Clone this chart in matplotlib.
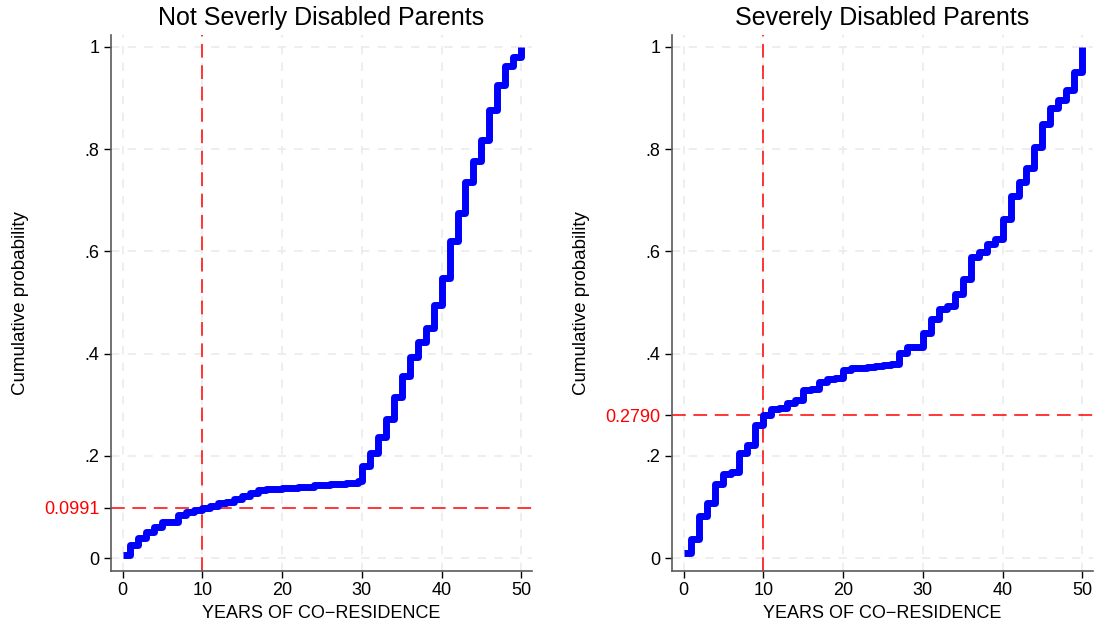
import numpy as np
import matplotlib as mpl
mpl.use('Agg')
import matplotlib.pyplot as plt

plt.rcParams['font.family'] = ['Liberation Sans', 'DejaVu Sans']

# cumulative distribution of years of co-residence
years_not = [0, 1, 2, 3, 4, 5, 7, 8, 9, 10, 11, 12, 13, 14, 15, 16, 17, 18, 20, 22,
             24, 26, 28, 29.5, 30, 31, 32, 33, 34, 35, 36, 37, 38, 39, 40, 41, 42,
             43, 44, 45, 46, 47, 48, 49, 50]
cdf_not = [0.007, 0.026, 0.039, 0.052, 0.061, 0.071, 0.085, 0.090, 0.095, 0.099,
           0.103, 0.107, 0.110, 0.116, 0.121, 0.127, 0.134, 0.136, 0.138, 0.140,
           0.143, 0.145, 0.147, 0.150, 0.180, 0.205, 0.237, 0.273, 0.316, 0.357,
           0.393, 0.422, 0.451, 0.495, 0.547, 0.621, 0.675, 0.735, 0.776, 0.818,
           0.877, 0.925, 0.963, 0.979, 1.0]

years_sev = list(range(0, 51))
cdf_sev = [0.011, 0.037, 0.083, 0.108, 0.145, 0.165, 0.168, 0.206, 0.221, 0.261,
           0.279, 0.292, 0.294, 0.303, 0.309, 0.329, 0.331, 0.344, 0.350, 0.353,
           0.367, 0.371, 0.372, 0.374, 0.376, 0.378, 0.380, 0.402, 0.412, 0.413,
           0.441, 0.467, 0.487, 0.493, 0.516, 0.546, 0.588, 0.598, 0.614, 0.625,
           0.663, 0.709, 0.735, 0.763, 0.803, 0.848, 0.880, 0.895, 0.915, 0.951, 1.0]

titles = ['Not Severly Disabled Parents', 'Severely Disabled Parents']
cut_year = 10
cut_values = [0.0991, 0.2790]
cut_labels = ['0.0991', '0.2790']

fig = plt.figure(figsize=(10.94, 6.28), dpi=100)
ax1 = fig.add_axes([0.1012, 0.0908, 0.3848, 0.8535])
ax2 = fig.add_axes([0.614, 0.0908, 0.3848, 0.8535])

panels = [(ax1, years_not, cdf_not), (ax2, years_sev, cdf_sev)]
for i, (ax, xs, ys) in enumerate(panels):
    ax.set_xlim(-1.48, 51.3)
    ax.set_ylim(-0.025, 1.023)
    ax.grid(True, color='#ebebeb', linestyle=(0, (5, 5)), linewidth=1.2)
    ax.set_axisbelow(True)
    ax.plot(xs, ys, drawstyle='steps-post', color='#0000ff', linewidth=5,
            solid_joinstyle='round', solid_capstyle='butt', zorder=3)
    ax.axvline(cut_year, color='#ff0000', linestyle=(0, (9, 5)), linewidth=1.1, zorder=2)
    ax.axhline(cut_values[i], color='#ff0000', linestyle=(0, (9, 5)), linewidth=1.1, zorder=2)

    ax.set_xticks([0, 10, 20, 30, 40, 50])
    yt = [0, 0.2, 0.4, 0.6, 0.8, 1.0]
    ax.set_yticks(yt + [cut_values[i]])
    ax.set_yticklabels(['0', '.2', '.4', '.6', '.8', '1', cut_labels[i]])
    # keep grid only on the regular ticks
    ax.get_ygridlines()[-1].set_visible(False)

    ax.tick_params(direction='out', length=5, width=1, colors='black',
                   labelsize=13, pad=3)
    ax.get_yticklabels()[-1].set_color('#ff0000')
    for s in ['top', 'right']:
        ax.spines[s].set_visible(False)
    for s in ['left', 'bottom']:
        ax.spines[s].set_color('#5a5a5a')
        ax.spines[s].set_linewidth(1.2)

    ax.set_title(titles[i], fontsize=18, pad=7)
    ax.set_xlabel('YEARS OF CO\u2212RESIDENCE', fontsize=13, labelpad=4.5)
    ax.set_ylabel('Cumulative probability', fontsize=13.5, labelpad=11)

plt.savefig('out.png', dpi=100)
